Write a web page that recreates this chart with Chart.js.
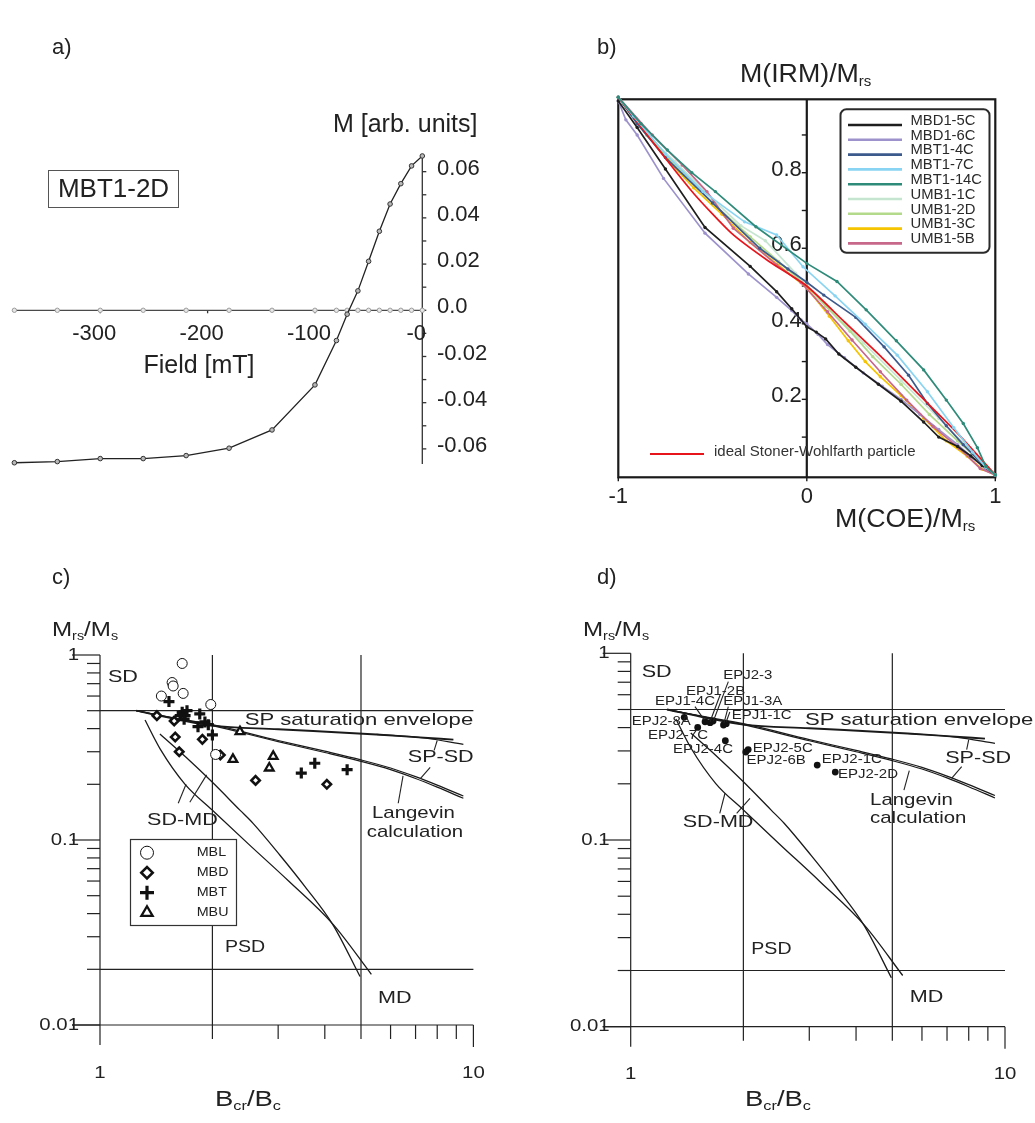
<!DOCTYPE html>
<html>
<head>
<meta charset="utf-8">
<title>Hysteresis, IRM and Day plots</title>
<script src="https://cdn.jsdelivr.net/npm/chart.js@4.4.1/dist/chart.umd.min.js"></script>
<style>
  html, body { margin: 0; padding: 0; background: #fff; }
  #fig { position: relative; width: 1035px; height: 1123px; overflow: hidden; }
  canvas { position: absolute; }
</style>
</head>
<body>
<div id="fig">
  <canvas id="pa" width="520" height="540" style="left:0;top:0"></canvas>
  <canvas id="pb" width="515" height="540" style="left:520px;top:0"></canvas>
  <canvas id="pc" width="520" height="583" style="left:0;top:540px"></canvas>
  <canvas id="pd" width="515" height="583" style="left:520px;top:540px"></canvas>
</div>
<script>
// ---- a) back-field curve, MBT1-2D ----
const fieldMT = [-380, -340, -300, -260, -220, -180, -140, -100, -80, -70, -60, -50, -40, -30, -20, -10, 0];
const momentM = [-0.0660, -0.0655, -0.0642, -0.0642, -0.0629, -0.0597, -0.0518, -0.0323, -0.0131, -0.0017,
                 0.0084, 0.0212, 0.0342, 0.0460, 0.0548, 0.0625, 0.0668];
const zeroM = [0, 0, 0, 0, 0, 0, 0, 0, 0, 0, 0, 0, 0, 0, 0, 0, 0];
const aYTicks = [-0.06, -0.04, -0.02, 0, 0.02, 0.04, 0.06];
const aYLabels = ['-0.06', '-0.04', '-0.02', '0.0', '0.02', '0.04', '0.06'];
const aYMinor = [-0.06, -0.05, -0.04, -0.03, -0.02, -0.01, 0, 0.01, 0.02, 0.03, 0.04, 0.05, 0.06];
const aXTicks = [-300, -200, -100, 0];
const aXLabels = ['-300', '-200', '-100', '-0'];

// ---- b) IRM vs COE ----
const bSamples = ['MBD1-5C', 'MBD1-6C', 'MBT1-4C', 'MBT1-7C', 'MBT1-14C', 'UMB1-1C', 'UMB1-2D', 'UMB1-3C', 'UMB1-5B'];
const coeMBD1_5C = [-1, -0.9, -0.75, -0.54, -0.3, -0.16, -0.08, 0, 0.05, 0.1, 0.17, 0.26, 0.38, 0.5, 0.62, 0.7, 0.8, 0.87, 0.93, 1];
const irmMBD1_5C = [0.99, 0.92, 0.81, 0.655, 0.552, 0.485, 0.44, 0.392, 0.378, 0.36, 0.32, 0.285, 0.24, 0.195, 0.14, 0.1, 0.075, 0.05, 0.025, 0];
const coeMBD1_6C = [-1, -0.96, -0.9, -0.76, -0.54, -0.31, -0.16, -0.08, -0.03, 0, 0.06, 0.11, 0.2, 0.3, 0.4, 0.5, 0.6, 0.7, 0.8, 0.88, 0.95, 1];
const irmMBD1_6C = [0.99, 0.94, 0.9, 0.785, 0.64, 0.532, 0.47, 0.435, 0.41, 0.4, 0.372, 0.345, 0.31, 0.27, 0.235, 0.2, 0.16, 0.12, 0.08, 0.045, 0.015, 0];
const coeMBT1_4C = [-1, -0.9, -0.75, -0.5, -0.25, -0.1, 0, 0.09, 0.26, 0.41, 0.54, 0.64, 0.74, 0.83, 0.91, 1];
const irmMBT1_4C = [1, 0.93, 0.84, 0.72, 0.6, 0.545, 0.51, 0.476, 0.417, 0.339, 0.264, 0.189, 0.13, 0.08, 0.04, 0];
const coeMBT1_7C = [-1, -0.92, -0.75, -0.55, -0.33, -0.16, -0.02, 0.15, 0.31, 0.48, 0.64, 0.78, 0.88, 0.95, 1];
const irmMBT1_7C = [1, 0.95, 0.85, 0.75, 0.67, 0.635, 0.551, 0.474, 0.399, 0.317, 0.22, 0.125, 0.06, 0.02, 0];
const coeMBT1_14C = [-1, -0.88, -0.74, -0.61, -0.485, -0.27, 0, 0.16, 0.315, 0.475, 0.62, 0.74, 0.83, 0.905, 0.95, 1];
const irmMBT1_14C = [1, 0.93, 0.86, 0.8, 0.75, 0.657, 0.56, 0.512, 0.437, 0.355, 0.278, 0.198, 0.136, 0.072, 0.022, 0];
const coeUMB1_1C = [-1, -0.85, -0.7, -0.5, -0.35, -0.22, -0.06, 0.1, 0.3, 0.5, 0.7, 0.85, 1];
const irmUMB1_1C = [1, 0.9, 0.83, 0.73, 0.66, 0.62, 0.534, 0.45, 0.35, 0.25, 0.15, 0.075, 0];
const coeUMB1_2D = [-1, -0.85, -0.7, -0.5, -0.3, -0.15, 0, 0.1, 0.23, 0.35, 0.5, 0.65, 0.8, 0.9, 1];
const irmUMB1_2D = [1, 0.9, 0.82, 0.72, 0.63, 0.565, 0.5, 0.447, 0.38, 0.313, 0.24, 0.16, 0.09, 0.045, 0];
const coeUMB1_3C = [-1, -0.88, -0.74, -0.6, -0.45, -0.3, -0.15, 0, 0.12, 0.22, 0.31, 0.39, 0.5, 0.62, 0.74, 0.85, 0.93, 1];
const irmUMB1_3C = [1, 0.92, 0.835, 0.76, 0.69, 0.615, 0.555, 0.495, 0.42, 0.355, 0.3, 0.26, 0.21, 0.15, 0.09, 0.05, 0.015, 0];
const coeUMB1_5B = [-1, -0.82, -0.66, -0.53, -0.39, -0.16, -0.03, 0.11, 0.24, 0.39, 0.53, 0.67, 0.81, 0.92, 1];
const irmUMB1_5B = [1, 0.9, 0.82, 0.75, 0.653, 0.556, 0.509, 0.432, 0.357, 0.273, 0.198, 0.128, 0.07, 0.017, 0];
const coeSW = [-1, -0.8, -0.6, -0.4, -0.2, 0, 0.2, 0.4, 0.6, 0.8, 1];
const irmSW = [1, 0.87, 0.745, 0.64, 0.565, 0.5, 0.405, 0.31, 0.21, 0.11, 0];
const bYTicks = [0.2, 0.4, 0.6, 0.8];
const bYLabels = ['0.2', '0.4', '0.6', '0.8'];
const bYMinor = [0.1, 0.2, 0.3, 0.4, 0.5, 0.6, 0.7, 0.8, 0.9];
const bXTicks = [-1, 0, 1];
const bXLabels = ['-1', '0', '1'];

// ---- c) / d) Day plot reference curves ----
const satEnvX = [1.25, 1.6, 2, 3, 5.5, 7, 8.84];
const satEnvY = [0.5, 0.45, 0.415, 0.397, 0.372, 0.36, 0.349];
const spsdUpX = [5.5, 7.4, 9.4];
const spsdUpY = [0.372, 0.356, 0.329];
const langevinX = [1.25, 1.6, 2, 3, 4, 5, 6, 7, 8, 9.4];
const langevinY = [0.5, 0.453, 0.415, 0.34, 0.297, 0.266, 0.24, 0.215, 0.193, 0.168];
const spsdX = [1.25, 1.6, 2, 3, 4, 5, 6, 7, 8, 9.4];
const spsdY = [0.5, 0.455, 0.42, 0.345, 0.302, 0.271, 0.245, 0.22, 0.198, 0.173];
const sdmdAX = [1.32, 1.45, 1.69, 2.0, 2.5, 3.2, 4.21, 5.33];
const sdmdAY = [0.445, 0.31, 0.2, 0.145, 0.095, 0.06, 0.035, 0.0188];
const sdmdBX = [1.447, 1.7, 2.0, 2.37, 2.57, 3.03, 3.54, 4.21, 4.97];
const sdmdBY = [0.374, 0.28, 0.205, 0.145, 0.123, 0.083, 0.056, 0.0347, 0.0183];
const dayYMajor = [1, 0.1, 0.01];
const dayYMajorLabels = ['1', '0.1', '0.01'];
const dayXMajor = [1, 10];
const dayXMajorLabels = ['1', '10'];
const dayXGrid = [2, 5];
const dayYGrid = [0.5, 0.02];

// c) sample groups
const groupNames = ['MBL', 'MBD', 'MBT', 'MBU'];
const mblX = [1.66, 1.56, 1.57, 1.67, 1.46, 1.98, 2.04];
const mblY = [0.90, 0.71, 0.68, 0.62, 0.60, 0.54, 0.29];
const mbdX = [1.42, 1.58, 1.59, 1.63, 1.88, 2.10, 2.61, 4.05];
const mbdY = [0.47, 0.44, 0.36, 0.30, 0.35, 0.288, 0.21, 0.20];
const mbtX = [1.53, 1.64, 1.66, 1.69, 1.71, 1.68, 1.85, 1.83, 1.91, 1.95, 2.00, 3.46, 3.76, 4.59];
const mbtY = [0.56, 0.47, 0.49, 0.47, 0.50, 0.45, 0.48, 0.41, 0.435, 0.42, 0.37, 0.23, 0.26, 0.24];
const mbuX = [2.37, 2.27, 2.84, 2.91];
const mbuY = [0.385, 0.273, 0.245, 0.283];

// d) EPJ samples
const epjNames = ['EPJ2-8A', 'EPJ2-7C', 'EPJ1-4C', 'EPJ1-2B', 'EPJ2-3', 'EPJ1-3A', 'EPJ1-1C', 'EPJ2-4C', 'EPJ2-5C', 'EPJ2-6B', 'EPJ2-1C', 'EPJ2-2D'];
const epjBcrBc = [1.39, 1.51, 1.58, 1.63, 1.66, 1.77, 1.80, 1.79, 2.06, 2.03, 3.15, 3.52];
const epjMrsMs = [0.454, 0.401, 0.43, 0.425, 0.434, 0.413, 0.42, 0.34, 0.305, 0.296, 0.252, 0.231];

// ---------- helpers ----------
const FONT = '"Liberation Sans", Arial, Helvetica, sans-serif';

function pts(xs, ys) { return xs.map((x, i) => ({ x, y: ys[i] })); }

function seg(ctx, x1, y1, x2, y2) {
  ctx.beginPath(); ctx.moveTo(x1, y1); ctx.lineTo(x2, y2); ctx.stroke();
}

// fillText with optional horizontal stretch (sx); returns drawn width
function text(ctx, s, x, y, o = {}) {
  const size = o.size || 16, sx = o.sx || 1;
  ctx.save();
  ctx.font = size + 'px ' + FONT;
  ctx.fillStyle = o.color || '#222';
  ctx.textBaseline = 'middle';
  ctx.textAlign = 'left';
  const w = ctx.measureText(s).width * sx;
  let x0 = x;
  if (o.align === 'center') x0 = x - w / 2;
  else if (o.align === 'right') x0 = x - w;
  ctx.translate(x0, y);
  ctx.scale(sx, 1);
  ctx.fillText(s, 0, 0);
  ctx.restore();
  return w;
}

// pieces: [string, isSubscript]
function subText(ctx, pieces, x, y, size, subSize, sx) {
  let cx = x;
  pieces.forEach(([s, sub]) => {
    cx += text(ctx, s, cx, sub ? y + size * 0.3 : y, { size: sub ? subSize : size, sx });
  });
}

function baseOptions(pad, scales) {
  return {
    responsive: false, animation: false, devicePixelRatio: 1, events: [],
    layout: { padding: pad },
    plugins: { legend: { display: false }, tooltip: { enabled: false } },
    scales
  };
}

// ---------- a) ----------
new Chart(document.getElementById('pa'), {
  type: 'line',
  data: {
    datasets: [
      { data: pts(fieldMT, momentM), borderColor: '#222', borderWidth: 1.3, tension: 0,
        pointRadius: 2.3, pointBorderWidth: 1, pointBorderColor: '#333', pointBackgroundColor: '#b8b8b8', clip: false },
      { data: pts(fieldMT, zeroM), borderColor: '#4a4a4a', borderWidth: 1.3, tension: 0,
        pointRadius: 2.2, pointBorderWidth: 1, pointBorderColor: '#9c9c9c', pointBackgroundColor: '#e6e6e6', clip: false }
    ]
  },
  options: baseOptions({ left: 13.3, right: 97.7, top: 155.5, bottom: 76.1 }, {
    x: { type: 'linear', min: -381, max: 0, display: false },
    y: { type: 'linear', min: -0.0665, max: 0.067, display: false }
  }),
  plugins: [{
    id: 'axesA',
    beforeDatasetsDraw(chart) {
      const { ctx, scales: { x, y } } = chart;
      const x0 = x.getPixelForValue(0), y0 = y.getPixelForValue(0);
      ctx.save();
      ctx.strokeStyle = '#333'; ctx.lineWidth = 1.3;
      seg(ctx, x0, y.top, x0, y.bottom);
      aYMinor.forEach(v => seg(ctx, x0, y.getPixelForValue(v), x0 + 4, y.getPixelForValue(v)));
      aXTicks.forEach(v => seg(ctx, x.getPixelForValue(v), y0, x.getPixelForValue(v), y0 + 3));
      aYTicks.forEach((v, i) => text(ctx, aYLabels[i], 437, y.getPixelForValue(v) - 3, { size: 22 }));
      aXTicks.forEach((v, i) => text(ctx, aXLabels[i], x.getPixelForValue(v) - 6, y0 + 24, { size: 22, align: 'center' }));
      text(ctx, 'M [arb. units]', 333, 125, { size: 25 });
      text(ctx, 'Field [mT]', 199, 366, { size: 25, align: 'center' });
      text(ctx, 'a)', 52, 48, { size: 22 });
      ctx.strokeStyle = '#555'; ctx.lineWidth = 1;
      ctx.strokeRect(48.5, 170.5, 130, 37);
      text(ctx, 'MBT1-2D', 113.5, 189.5, { size: 26, align: 'center' });
      ctx.restore();
    }
  }]
});

// ---------- b) ----------
const bSeries = [
  [coeMBD1_5C, irmMBD1_5C], [coeMBD1_6C, irmMBD1_6C], [coeMBT1_4C, irmMBT1_4C],
  [coeMBT1_7C, irmMBT1_7C], [coeMBT1_14C, irmMBT1_14C], [coeUMB1_1C, irmUMB1_1C],
  [coeUMB1_2D, irmUMB1_2D], [coeUMB1_3C, irmUMB1_3C], [coeUMB1_5B, irmUMB1_5B]
];
const bColors = ['#1e1e1e', '#9d92cc', '#3d5a8c', '#88d4f2', '#2f8b79', '#c6e5d0', '#b3d98a', '#f6c400', '#c7678a'];
const bLayer = [4, 6, 3, 1, 0, 9, 8, 7, 5];   // lower = drawn on top
const swColor = '#e8141c';

const bDatasets = bSeries.map(([xs, ys], i) => ({
  data: pts(xs, ys), borderColor: bColors[i], borderWidth: 1.7, tension: 0, order: bLayer[i] + 1,
  pointRadius: 1.7, pointBorderWidth: 0, pointBackgroundColor: bColors[i], clip: false
}));
bDatasets.push({ data: pts(coeSW, irmSW), borderColor: swColor, borderWidth: 1.7, tension: 0.2,
  order: 3.5, pointRadius: 0, clip: false });

new Chart(document.getElementById('pb'), {
  type: 'line',
  data: { datasets: bDatasets },
  options: baseOptions({ left: 98.3, right: 39.7, top: 99.3, bottom: 62.7 }, {
    x: { type: 'linear', min: -1, max: 1, display: false },
    y: { type: 'linear', min: -0.0064, max: 0.9944, display: false }
  }),
  plugins: [{
    id: 'frameB',
    beforeDatasetsDraw(chart) {
      const { ctx, chartArea: a, scales: { x, y } } = chart;
      const x0 = x.getPixelForValue(0);
      ctx.save();
      ctx.strokeStyle = '#1a1a1a'; ctx.lineWidth = 2.2;
      ctx.strokeRect(a.left, a.top, a.right - a.left, a.bottom - a.top);
      seg(ctx, x0, a.top, x0, a.bottom);
      ctx.lineWidth = 1.4;
      bYMinor.forEach(v => seg(ctx, x0 - 5, y.getPixelForValue(v), x0, y.getPixelForValue(v)));
      bXTicks.forEach(v => seg(ctx, x.getPixelForValue(v), a.bottom, x.getPixelForValue(v), a.bottom + 4));
      bYTicks.forEach((v, i) => text(ctx, bYLabels[i], x0 - 5, y.getPixelForValue(v) - 3, { size: 22, align: 'right' }));
      bXTicks.forEach((v, i) => text(ctx, bXLabels[i], x.getPixelForValue(v), 497, { size: 22, align: 'center' }));
      subText(ctx, [['M(IRM)/M', 0], ['rs', 1]], 220, 75, 25, 14, 1.07);
      subText(ctx, [['M(COE)/M', 0], ['rs', 1]], 315, 520, 25, 14, 1.07);
      text(ctx, 'b)', 77, 48, { size: 22 });
      ctx.restore();
    },
    afterDatasetsDraw(chart) {
      const { ctx } = chart;
      ctx.save();
      // sample legend
      ctx.fillStyle = '#fff'; ctx.strokeStyle = '#2a2a2a'; ctx.lineWidth = 2;
      ctx.beginPath(); ctx.roundRect(320.5, 109.3, 149, 143.5, 6); ctx.fill(); ctx.stroke();
      bSamples.forEach((name, i) => {
        ctx.strokeStyle = bColors[i]; ctx.lineWidth = 2.6;
        const ly = 125 + i * 14.8;
        seg(ctx, 328, ly, 382, ly);
        text(ctx, name, 390.5, ly - 4.3, { size: 14.8, color: '#2a2a2a' });
      });
      // Stoner-Wohlfarth key
      ctx.strokeStyle = swColor; ctx.lineWidth = 2;
      seg(ctx, 130, 454, 184, 454);
      text(ctx, 'ideal Stoner-Wohlfarth particle', 194, 452, { size: 15, color: '#333' });
      ctx.restore();
    }
  }]
});

// ---------- c) and d) ----------
function refCurves() {
  const line = (xs, ys, w) => ({
    data: pts(xs, ys), borderColor: '#1a1a1a', borderWidth: w, cubicInterpolationMode: 'monotone',
    pointRadius: 0, clip: false, order: 10
  });
  return [
    line(satEnvX, satEnvY, 1.9), line(spsdUpX, spsdUpY, 1.2), line(langevinX, langevinY, 1.2),
    line(spsdX, spsdY, 1.2), line(sdmdAX, sdmdAY, 1.3), line(sdmdBX, sdmdBY, 1.3)
  ];
}

const TXT = 1.27;  // horizontal stretch of the lettering in the Day plots

function dayPlugin(spec) {
  return {
    id: 'dayAxes',
    beforeDatasetsDraw(chart) {
      const { ctx, scales: { x, y } } = chart;
      const X = v => x.getPixelForValue(v), Y = v => y.getPixelForValue(v);
      const ax = X(1), top = Y(1), bot = Y(0.01), right = X(10);
      ctx.save();
      ctx.strokeStyle = '#222'; ctx.lineWidth = 1.2;
      seg(ctx, ax, top, ax, bot + 20);
      seg(ctx, ax - 28, bot, right, bot);
      dayYMajor.forEach(v => seg(ctx, ax - 28, Y(v), ax, Y(v)));
      [0.01, 0.1].forEach(d => {
        for (let k = 2; k <= 9; k++) seg(ctx, ax - 13, Y(k * d), ax, Y(k * d));
      });
      for (let k = 2; k <= 9; k++) seg(ctx, X(k), bot, X(k), bot + 14);
      seg(ctx, right, bot, right, bot + 22);
      dayXGrid.forEach(v => seg(ctx, X(v), top, X(v), bot));
      dayYGrid.forEach(v => seg(ctx, ax, Y(v), right, Y(v)));
      dayYMajor.forEach((v, i) => text(ctx, dayYMajorLabels[i], ax - 21, Y(v), { size: 17, sx: 1.2, align: 'right' }));
      dayXMajor.forEach((v, i) => text(ctx, dayXMajorLabels[i], X(v), bot + 48, { size: 17, sx: 1.2, align: 'center' }));
      subText(ctx, [['M', 0], ['rs', 1], ['/M', 0], ['s', 1]], spec.yTitle[0], spec.yTitle[1], 21, 12.5, 1.15);
      subText(ctx, [['B', 0], ['cr', 1], ['/B', 0], ['c', 1]], spec.xTitle[0], spec.xTitle[1], 22, 13, 1.25);
      text(ctx, spec.letter, spec.letterAt[0], spec.letterAt[1], { size: 22 });
      ctx.restore();
    },
    afterDatasetsDraw(chart) {
      const { ctx, scales: { x, y } } = chart;
      const X = v => x.getPixelForValue(v), Y = v => y.getPixelForValue(v);
      ctx.save();
      ctx.strokeStyle = '#222'; ctx.lineWidth = 1.1;
      spec.leaders.forEach(([[x1, y1], [x2, y2]]) => seg(ctx, X(x1), Y(y1), X(x2), Y(y2)));
      spec.notes.forEach(([s, vx, vy, size, sx]) => text(ctx, s, X(vx), Y(vy), { size: size || 17, sx: sx || TXT }));
      if (spec.after) spec.after(ctx, X, Y);
      ctx.restore();
    }
  };
}

function dayChart(id, pad, datasets, spec) {
  return new Chart(document.getElementById(id), {
    type: 'line',
    data: { datasets: datasets.concat(refCurves()) },
    options: baseOptions(pad, {
      x: { type: 'logarithmic', min: 1, max: 10, display: false },
      y: { type: 'logarithmic', min: 0.01, max: 1, display: false }
    }),
    plugins: [dayPlugin(spec)]
  });
}

// c) sample groups, marker styles
const groupStyle = [
  { pointStyle: 'circle', radius: 5, borderWidth: 1, fill: '#fff' },
  { pointStyle: 'rectRot', radius: 4.2, borderWidth: 2.6, fill: '#fff' },
  { pointStyle: 'cross', radius: 5.5, borderWidth: 3.2, fill: '#111' },
  { pointStyle: 'triangle', radius: 5, borderWidth: 2.3, fill: '#fff' }
];
const groupData = [[mblX, mblY], [mbdX, mbdY], [mbtX, mbtY], [mbuX, mbuY]];
const cDatasets = groupData.map(([xs, ys], i) => ({
  data: pts(xs, ys), showLine: false, order: 1,
  pointStyle: groupStyle[i].pointStyle, pointRadius: groupStyle[i].radius,
  pointBorderWidth: groupStyle[i].borderWidth, pointBorderColor: '#111',
  pointBackgroundColor: groupStyle[i].fill, clip: false
}));

dayChart('pc', { left: 100, right: 46.6, top: 115, bottom: 98 }, cDatasets, {
  letter: 'c)', letterAt: [52, 38], yTitle: [52, 90], xTitle: [215, 560],
  notes: [
    ['SD', 1.05, 0.76], ['SP saturation envelope', 2.44, 0.445, 17, 1.3], ['SP-SD', 6.67, 0.281],
    ['Langevin', 5.35, 0.14, 17, 1.2], ['calculation', 5.18, 0.110, 17, 1.2], ['SD-MD', 1.336, 0.128],
    ['PSD', 2.16, 0.0264, 17, 1.15], ['MD', 5.55, 0.014]
  ],
  leaders: [
    [[6.48, 0.222], [6.29, 0.158]], [[8.0, 0.345], [7.85, 0.305]], [[7.66, 0.247], [7.2, 0.214]],
    [[1.62, 0.158], [1.70, 0.2]], [[1.74, 0.16], [1.93, 0.225]]
  ],
  after(ctx) {
    // marker key
    ctx.fillStyle = '#fff'; ctx.strokeStyle = '#333'; ctx.lineWidth = 1.2;
    ctx.fillRect(130, 299.5, 107, 86); ctx.strokeRect(130.5, 299.5, 106, 86);
    groupNames.forEach((name, i) => {
      const st = groupStyle[i], cy = 312.7 + i * 20;
      ctx.fillStyle = st.fill; ctx.strokeStyle = '#111'; ctx.lineWidth = st.borderWidth;
      Chart.helpers.drawPoint(ctx, { pointStyle: st.pointStyle, radius: st.radius + 1.5, rotation: 0, borderWidth: st.borderWidth }, 147, cy);
      text(ctx, name, 196.7, cy, { size: 13, sx: 1.1 });
    });
  }
});

// d) EPJ samples with name labels
const dLabelAt = [
  [1.006, 0.43], [1.112, 0.361], [1.161, 0.551], [1.405, 0.623], [1.766, 0.76], [1.766, 0.549],
  [1.861, 0.462], [1.297, 0.306], [2.119, 0.31], [2.04, 0.266], [3.24, 0.27], [3.58, 0.223]
];
const dDatasets = [{
  data: pts(epjBcrBc, epjMrsMs), showLine: false, order: 1,
  pointStyle: 'circle', pointRadius: 3.4, pointBorderWidth: 0, pointBackgroundColor: '#111', clip: false
}];

dayChart('pd', { left: 110.7, right: 30, top: 113.3, bottom: 96.3 }, dDatasets, {
  letter: 'd)', letterAt: [77, 38], yTitle: [63, 90], xTitle: [225, 560],
  notes: [
    ['SD', 1.07, 0.79], ['SP saturation envelope', 2.92, 0.439, 17, 1.3], ['SP-SD', 6.92, 0.275],
    ['Langevin', 4.36, 0.164, 17, 1.2], ['calculation', 4.36, 0.131, 17, 1.2], ['SD-MD', 1.377, 0.125],
    ['PSD', 2.1, 0.026, 17, 1.15], ['MD', 5.57, 0.0144]
  ],
  leaders: [
    [[5.55, 0.235], [5.37, 0.185]], [[8.0, 0.345], [7.9, 0.305]], [[7.66, 0.247], [7.2, 0.214]],
    [[1.73, 0.139], [1.786, 0.178]], [[1.919, 0.139], [2.083, 0.167]],
    [[1.823, 0.705], [1.663, 0.434]], [[1.733, 0.598], [1.629, 0.43]], [[1.485, 0.518], [1.572, 0.44]],
    [[1.823, 0.518], [1.775, 0.423]], [[1.84, 0.485], [1.80, 0.43]]
  ],
  after(ctx, X, Y) {
    epjNames.forEach((name, i) => text(ctx, name, X(dLabelAt[i][0]), Y(dLabelAt[i][1]), { size: 12, sx: 1.25 }));
  }
});
</script>
</body>
</html>
